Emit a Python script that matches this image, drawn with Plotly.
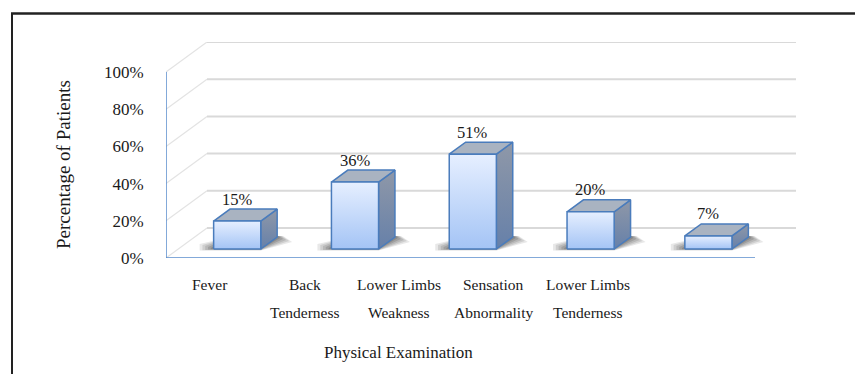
import plotly.graph_objects as go

# ---------------- data ----------------
cat_line1 = ["Fever", "Back", "Lower Limbs", "Sensation", "Lower Limbs"]
cat_line2 = ["", "Tenderness", "Weakness", "Abnormality", "Tenderness"]
values = [15, 36, 51, 20, 7]
y_ticks = [0, 20, 40, 60, 80, 100]
y_tick_labels = ["0%", "20%", "40%", "60%", "80%", "100%"]
x_title = "Physical Examination"
y_title = "Percentage of Patients"

# ---------------- geometry / style ----------------
W, H = 855, 374
ML, MR, MT, MB = 166, 59, 42, 116
PLOT_W = W - ML - MR
PLOT_H = H - MT - MB
PX_CAT = 117.8
PX_PCT = 1.86
DX = 41 / PX_CAT          # depth vector in x units
DY = 30 / PX_PCT          # depth vector in % units
BAR_W = 0.40
F0, F1 = 0.30, 0.70       # bar front/back depth fractions
FONT = "Liberation Serif"
TXT = "#1a1a1a"
EDGE = "#4a7cbc"
AXIS = "#5a8dcc"

x0 = -0.5
xr_max = x0 + PLOT_W / PX_CAT
yr_max = PLOT_H / PX_PCT
n = len(values)

def px_x(p):
    return p / PX_CAT

def px_y(p):
    return p / PX_PCT

fig = go.Figure()

# wall gridlines
diag_x, diag_y, back_x, back_y = [], [], [], []
for v in y_ticks:
    diag_x += [x0, x0 + DX, None]
    diag_y += [v, v + DY, None]
    back_x += [x0 + DX, n - 0.5 + DX, None]
    back_y += [v + DY, v + DY, None]
fig.add_trace(go.Scatter(x=diag_x, y=diag_y, mode="lines",
                         line=dict(color="#e3e3e3", width=1.2), hoverinfo="skip"))
fig.add_trace(go.Scatter(x=back_x, y=back_y, mode="lines",
                         line=dict(color="#d9d9d9", width=2), hoverinfo="skip"))

# soft floor shadows
for i, v in enumerate(values):
    xl = i - BAR_W / 2 + F0 * DX
    xr = i + BAR_W / 2 + F0 * DX
    yb = F0 * DY
    ddx = (F1 - F0) * DX
    ddy = (F1 - F0) * DY
    for k, op in [(1.0, 0.10), (0.8, 0.12), (0.6, 0.13), (0.4, 0.15), (0.2, 0.17)]:
        fig.add_trace(go.Scatter(
            x=[xl - px_x(14 * k), xr, xr + ddx + px_x(15 * k),
               xr + ddx + px_x(6 * k), xl + ddx, xl - px_x(14 * k)],
            y=[yb - px_y(1.5 * k), yb - px_y(1.5 * k), yb + ddy - px_y(5 * k),
               yb + ddy + px_y(1), yb + ddy, yb + px_y(5 * k)],
            mode="lines", fill="toself", fillcolor=f"rgba(30,30,30,{op})",
            line=dict(width=0), hoverinfo="skip"))

# bars (front, side, top faces)
for i, v in enumerate(values):
    xl = i - BAR_W / 2 + F0 * DX
    xr = i + BAR_W / 2 + F0 * DX
    yb = F0 * DY
    yt = yb + v
    ddx = (F1 - F0) * DX
    ddy = (F1 - F0) * DY
    # side face
    fig.add_trace(go.Scatter(
        x=[xr, xr + ddx, xr + ddx, xr, xr],
        y=[yb, yb + ddy, yt + ddy, yt, yb],
        mode="lines", fill="toself",
        fillgradient=dict(type="vertical", start=yb, stop=yt + ddy,
                          colorscale=[[0, "#6680a9"], [1, "#8f98a8"]]),
        line=dict(color=EDGE, width=1.5), hoverinfo="skip"))
    # top face
    fig.add_trace(go.Scatter(
        x=[xl, xr, xr + ddx, xl + ddx, xl],
        y=[yt, yt, yt + ddy, yt + ddy, yt],
        mode="lines", fill="toself", fillcolor="#a9b3c1",
        line=dict(color=EDGE, width=1.5), hoverinfo="skip"))
    # front face
    fig.add_trace(go.Scatter(
        x=[xl, xr, xr, xl, xl],
        y=[yb, yb, yt, yt, yb],
        mode="lines", fill="toself",
        fillgradient=dict(type="vertical", start=yb, stop=yt,
                          colorscale=[[0, "#a4c4f5"], [1, "#e6efff"]]),
        line=dict(color=EDGE, width=1.5), hoverinfo="skip"))

# axis lines
fig.add_trace(go.Scatter(x=[x0, x0], y=[0, 100], mode="lines",
                         line=dict(color=AXIS, width=1.5), hoverinfo="skip"))
fig.add_trace(go.Scatter(x=[x0, n - 0.5], y=[0, 0], mode="lines",
                         line=dict(color=AXIS, width=1.5), hoverinfo="skip"))

annotations = []
# data labels
for i, v in enumerate(values):
    annotations.append(dict(
        x=i + F0 * DX, y=F0 * DY + v, xref="x", yref="y",
        text=f"{v}%", showarrow=False, yshift=22, yanchor="middle",
        font=dict(family=FONT, size=16.5, color=TXT)))

# category labels (two lines each)
LAB_X0 = x0 + (210 - ML) / PX_CAT
LAB_STEP = 94.5 / PX_CAT
def ypaper(py):
    return (H - MB - py) / PLOT_H
for i in range(n):
    for txt, py in [(cat_line1[i], 284), (cat_line2[i], 312)]:
        if txt:
            annotations.append(dict(
                x=LAB_X0 + i * LAB_STEP, y=ypaper(py), xref="x", yref="paper",
                text=txt, showarrow=False, yanchor="middle", xanchor="center",
                font=dict(family=FONT, size=15.5, color=TXT)))

# axis titles
annotations.append(dict(x=x0 + (398 - ML) / PX_CAT, y=ypaper(352), xref="x", yref="paper",
                        text=x_title, showarrow=False, yanchor="middle",
                        font=dict(family=FONT, size=17, color=TXT)))
annotations.append(dict(x=(63 - ML) / PLOT_W, y=ypaper(165), xref="paper", yref="paper",
                        text=y_title, showarrow=False, textangle=-90,
                        xanchor="center", yanchor="middle",
                        font=dict(family=FONT, size=19, color=TXT)))

def xpaper(px):
    return (px - ML) / PLOT_W

shapes = [
    dict(type="line", xref="paper", yref="paper", x0=xpaper(12), x1=xpaper(12),
         y0=ypaper(13), y1=ypaper(380), line=dict(color="#222222", width=2)),
    dict(type="line", xref="paper", yref="paper", x0=xpaper(11), x1=xpaper(860),
         y0=ypaper(13.5), y1=ypaper(13.5), line=dict(color="#222222", width=2.5)),
]

fig.update_layout(
    width=W, height=H,
    margin=dict(l=ML, r=MR, t=MT, b=MB, pad=0),
    paper_bgcolor="white", plot_bgcolor="white",
    showlegend=False,
    xaxis=dict(range=[x0, xr_max], showgrid=False, zeroline=False, showline=False,
               showticklabels=False, ticks="", fixedrange=True),
    yaxis=dict(range=[0, yr_max], showgrid=False, zeroline=False, showline=False,
               tickvals=y_ticks, ticktext=y_tick_labels, ticks="outside",
               ticklen=18, tickcolor="rgba(0,0,0,0)",
               tickfont=dict(family=FONT, size=17, color=TXT), fixedrange=True),
    annotations=annotations,
    shapes=shapes,
)

fig.write_html("out.html")
